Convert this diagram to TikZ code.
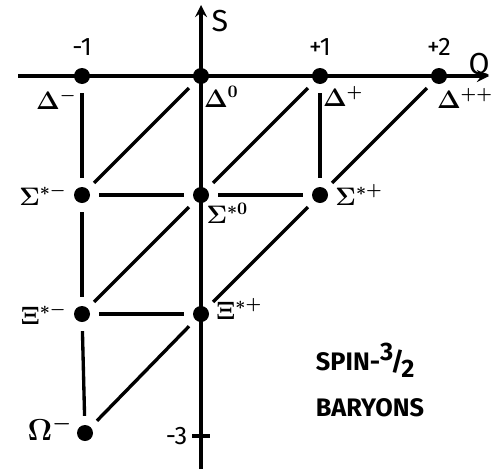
\documentclass[tikz,border=0pt]{standalone}
\usepackage{tikz}
\usepackage{amsmath}
\usepackage{fontspec}
\setsansfont{Fira Sans}
\usetikzlibrary{arrows, positioning}
\tikzstyle{arrow} = [line width=2pt,->,>=stealth]
\tikzstyle{link} = [line width=1.9pt, shorten <=5pt, shorten >=5pt]
\tikzstyle{particle} = [circle, fill=black, inner sep=0pt, minimum size=0.32cm]
\tikzstyle{tag} = [font=\Large\boldmath, inner sep=1pt]

\begin{document}
\begin{tikzpicture}[node distance=2.38cm]
\useasboundingbox (0,0) rectangle (9.82,-9.38);

% Delta row
\node (dm) [particle] at (1.64,-1.52) {};
\node (dz) [particle, right of=dm] {};
\node (dp) [particle, right of=dz] {};
\node (dpp) [particle, right of=dp] {};

% Sigma row
\node (sm) [particle, below of=dm] {};
\node (sz) [particle, below of=dz] {};
\node (sp) [particle, below of=dp] {};

% Xi row
\node (xm) [particle, below of=sm] {};
\node (xz) [particle, below of=sz] {};

% Omega
\node (om) [particle, below of=xm, xshift=0.06cm] {};

% Axes
\coordinate (qstart) at (0.36,-1.52);
\coordinate (qend) at (9.78,-1.52);
\coordinate (sbot) at (4.02,-9.38);
\coordinate (stop) at (4.02,-0.1);
\draw [arrow] (qstart) -- (qend);
\draw [arrow] (sbot) -- (stop);
\node (slabel) [font=\sffamily\LARGE] at (4.4,-0.42) {S};
\node (qlabel) [font=\sffamily\LARGE] at (9.58,-1.3) {Q};

% Charge and strangeness ticks
\node (qm1) [above=0.12cm of dm, font=\sffamily\Large] {-1};
\node (qp1) [above=0.12cm of dp, font=\sffamily\Large] {+1};
\node (qp2) [above=0.12cm of dpp, font=\sffamily\Large] {+2};
\coordinate (tick) at (4.02,-8.72);
\draw [line width=1.9pt] ([xshift=-0.18cm]tick) -- ([xshift=0.18cm]tick);
\node (sm3) [left=0.15cm of tick, font=\sffamily\Large] {-3};

% Particle names
\node [tag, below left=0.1cm and -0.05cm of dm] {$\Delta^-$};
\node [tag, below right=0.05cm and -0.1cm of dz] {$\Delta^0$};
\node [tag, below right=0.05cm and -0.1cm of dp] {$\Delta^+$};
\node [tag, below right=0.08cm and -0.2cm of dpp] {$\Delta^{++}$};
\node [tag, left=0.1cm of sm] {$\Sigma^{*-}$};
\node [tag, below right=0.0cm and -0.05cm of sz] {$\Sigma^{*0}$};
\node [tag, right=0.1cm of sp] {$\Sigma^{*+}$};
\node [tag, left=0.1cm of xm] {$\Xi^{*-}$};
\node [tag, right=0.1cm of xz, yshift=0.1cm] {$\Xi^{*+}$};
\node [tag, left=0.05cm of om, yshift=0.1cm, font=\LARGE\boldmath] {$\Omega^-$};

% Connections
\draw [link] (dm) -- (sm);
\draw [link] (sm) -- (xm);
\draw [link] (xm) -- (om);
\draw [link] (dp) -- (sp);
\draw [link] (sm) -- (sz);
\draw [link] (sz) -- (sp);
\draw [link] (xm) -- (xz);
\draw [link] (sm) -- (dz);
\draw [link] (sz) -- (dp);
\draw [link] (sp) -- (dpp);
\draw [link] (xm) -- (sz);
\draw [link] (xz) -- (sp);
\draw [link] (om) -- (xz);

% Title
\node (title) [font=\sffamily\bfseries\Large, align=left] at (7.4,-7.6) {SPIN-\raisebox{0.7ex}{3}\kern-0.1em/\kern-0.1em\raisebox{-0.5ex}{2}\\[8pt]BARYONS};

\end{tikzpicture}
\end{document}
